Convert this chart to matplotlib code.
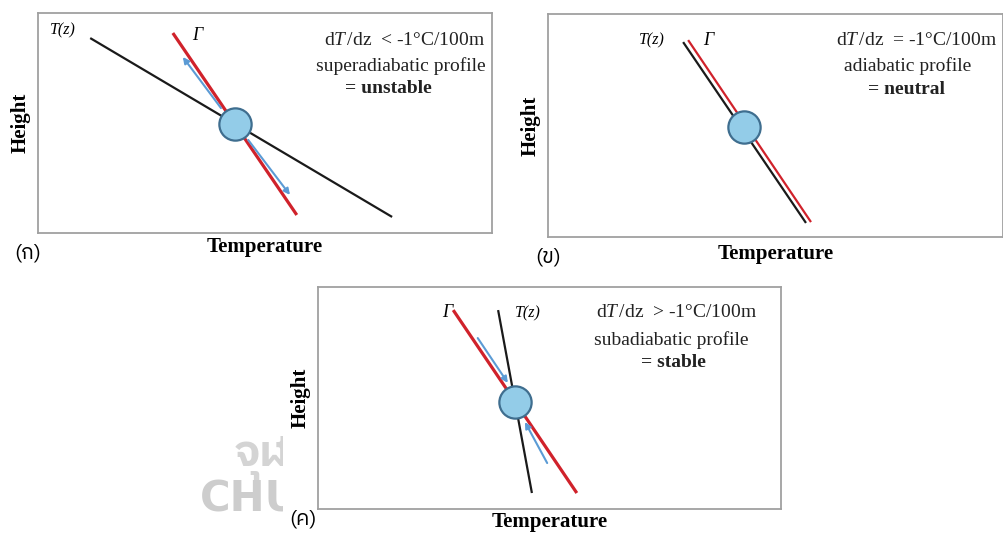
import matplotlib
matplotlib.use('Agg')
import matplotlib.pyplot as plt
from matplotlib import font_manager
from matplotlib.ft2font import FT2Font
from matplotlib.patches import Rectangle

W, H = 1004, 535

# schematic profiles, temperature (0-10) against height (0-10)
# (ก) superadiabatic: environment cools faster than the dry adiabat
env_a_t = [1.15, 7.80]
env_a_z = [8.86, 0.73]
adi_a_t = [2.97, 5.70]
adi_a_z = [9.09, 0.82]
push_a = [(4.03, 5.68, 3.19, 8.00), (4.63, 4.23, 5.55, 1.73)]
text_a = [r'd$T\,$/dz  < -1°C/100m', 'superadiabatic profile', '= unstable']

# (ข) adiabatic: environment follows the dry adiabat
env_b_t = [2.97, 5.67]
env_b_z = [8.74, 0.63]
adi_b_t = [3.08, 5.78]
adi_b_z = [8.83, 0.67]
parcel_b = (4.31, 4.93)
text_b = [r'd$T\,$/dz  = -1°C/100m', 'adiabatic profile', '= neutral']

# (ค) subadiabatic: environment cools slower than the dry adiabat
env_c_t = [3.89, 4.62]
env_c_z = [8.96, 0.72]
adi_c_t = [2.92, 5.59]
adi_c_z = [8.96, 0.72]
push_c = [(3.45, 7.70, 4.10, 5.68), (4.95, 2.07, 4.47, 3.92)]
text_c = [r'd$T\,$/dz  > -1°C/100m', 'subadiabatic profile', '= stable']

RED = '#d0222b'
BLACK = '#1a1a1a'
BLUE = '#5b9bd5'
PARCEL = '#93cce8'
PARCEL_EDGE = '#3f6e8f'


def thai_family():
    fonts = sorted(font_manager.fontManager.ttflist, key=lambda f: 'Sans' not in f.name)
    for f in fonts:
        try:
            if 0x0E01 in FT2Font(f.fname).get_charmap():
                return f.name
        except Exception:
            pass
    return 'DejaVu Sans'


def crossing(t1, z1, t2, z2):
    m1 = (z1[1] - z1[0]) / (t1[1] - t1[0])
    m2 = (z2[1] - z2[0]) / (t2[1] - t2[0])
    t = (z2[0] - z1[0] + m1 * t1[0] - m2 * t2[0]) / (m1 - m2)
    return t, z1[0] + m1 * (t - t1[0])


plt.rcParams['font.family'] = ['Liberation Serif', 'DejaVu Serif']
plt.rcParams['mathtext.fontset'] = 'custom'
plt.rcParams['mathtext.rm'] = 'Liberation Serif'
plt.rcParams['mathtext.it'] = 'Liberation Serif:italic'
THAI = thai_family()

fig = plt.figure(figsize=(W / 100, H / 100), dpi=100)
fig.patch.set_facecolor('white')

# faint watermark, mostly covered by the lower panel
fig.text(235 / W, 1 - 455 / H, 'จุฬาลงกรณ์', family=[THAI, 'DejaVu Sans'],
         fontsize=32, fontweight='bold', color='#d4d4d4', va='center', ha='left', zorder=-3)
fig.text(200 / W, 1 - 500 / H, 'CHULALONGKORN', family=['Liberation Sans Narrow', 'DejaVu Sans'],
         fontsize=30, fontweight='bold', color='#cdcdcd', va='center', ha='left', zorder=-3)
fig.patches.append(Rectangle((283 / W, 0), 1 - 283 / W, 1 - 272 / H, transform=fig.transFigure,
                             facecolor='white', edgecolor='none', zorder=-1))


def panel(left, top, right, bottom, tag, tag_xy, pad):
    ax = fig.add_axes([left / W, 1 - bottom / H, (right - left) / W, (bottom - top) / H])
    ax.set_xlim(0, 10)
    ax.set_ylim(0, 10)
    ax.set_xticks([])
    ax.set_yticks([])
    for s in ax.spines.values():
        s.set_color('#a0a0a0')
        s.set_linewidth(1.3)
    ax.set_xlabel('Temperature', fontsize=15, fontweight='bold', labelpad=pad)
    ax.set_ylabel('Height', fontsize=15, fontweight='bold', labelpad=5)
    fig.text(tag_xy[0] / W, 1 - tag_xy[1] / H, tag, family=[THAI, 'DejaVu Sans'],
             fontsize=15, va='center', ha='center')
    return ax


def notes(ax, lines, xs, ys):
    for line, x, y, w in zip(lines, xs, ys, ['normal', 'normal', 'bold']):
        ax.text(x, y, line, transform=ax.transAxes, fontsize=14, fontweight=w,
                ha='center', va='center', color='#222222')


def parcel(ax, t, z):
    ax.scatter([t], [z], s=540, color=PARCEL, edgecolors=PARCEL_EDGE, linewidths=1.6, zorder=5)


def pushes(ax, arrows):
    for t0, z0, t1, z1 in arrows:
        ax.annotate('', xy=(t1, z1), xytext=(t0, z0),
                    arrowprops=dict(arrowstyle='-|>', color=BLUE, lw=1.5, mutation_scale=9,
                                    shrinkA=0, shrinkB=0), zorder=4)


# (ก)
ax = panel(38, 13, 492, 233, '(ก)', (28, 253), 3)
ax.plot(env_a_t, env_a_z, color=BLACK, lw=1.6, solid_capstyle='butt')
ax.plot(adi_a_t, adi_a_z, color=RED, lw=2.3, solid_capstyle='butt')
pushes(ax, push_a)
parcel(ax, *crossing(env_a_t, env_a_z, adi_a_t, adi_a_z))
ax.text(0.55, 9.23, 'T(z)', fontsize=11.5, style='italic', ha='center', va='center')
ax.text(3.50, 9.0, 'Γ', fontsize=13, style='italic', ha='center', va='center')
notes(ax, text_a, [0.808, 0.80, 0.771], [0.877, 0.759, 0.659])

# (ข)
ax = panel(548, 14, 1003, 237, '(ข)', (548, 257), 5)
ax.plot(env_b_t, env_b_z, color=BLACK, lw=1.6, solid_capstyle='butt')
ax.plot(adi_b_t, adi_b_z, color=RED, lw=1.6, solid_capstyle='butt')
parcel(ax, *parcel_b)
ax.text(2.29, 8.83, 'T(z)', fontsize=11.5, style='italic', ha='center', va='center')
ax.text(3.52, 8.83, 'Γ', fontsize=13, style='italic', ha='center', va='center')
notes(ax, text_b, [0.809, 0.791, 0.789], [0.883, 0.767, 0.660])

# (ค)
ax = panel(318, 287, 781, 509, '(ค)', (303, 519), 2)
ax.plot(env_c_t, env_c_z, color=BLACK, lw=1.6, solid_capstyle='butt')
ax.plot(adi_c_t, adi_c_z, color=RED, lw=2.3, solid_capstyle='butt')
pushes(ax, push_c)
parcel(ax, *crossing(env_c_t, env_c_z, adi_c_t, adi_c_z))
ax.text(2.79, 8.87, 'Γ', fontsize=13, style='italic', ha='center', va='center')
ax.text(4.54, 8.83, 'T(z)', fontsize=11.5, style='italic', ha='center', va='center')
notes(ax, text_c, [0.775, 0.762, 0.767], [0.883, 0.761, 0.658])

fig.savefig('out.png', dpi=100, facecolor='white')
